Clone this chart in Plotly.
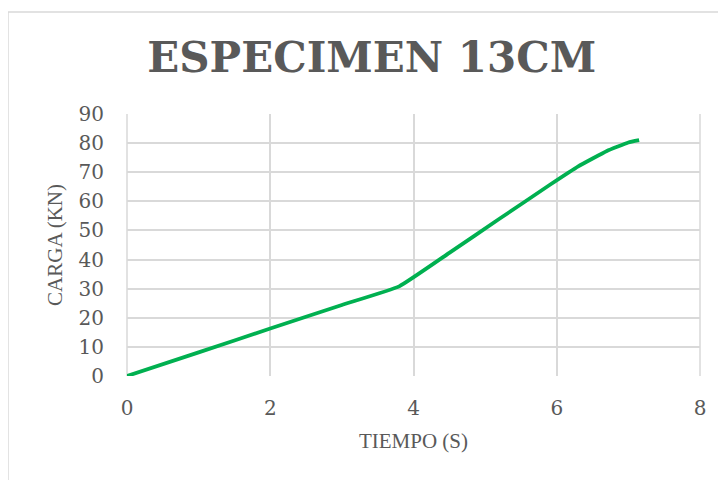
import plotly.graph_objects as go

# Data
tiempo_s = [0, 1, 2, 3, 3.8, 4.5, 5.2, 5.9, 6.3, 6.7, 7.0, 7.15]
carga_kn = [0, 8.1, 16.3, 24.4, 30.8, 42.3, 54.0, 65.6, 72.0, 77.3, 80.2, 81.0]

title_text = "ESPECIMEN 13CM"
x_title = "TIEMPO (S)"
y_title = "CARGA (KN)"
x_ticks = [0, 2, 4, 6, 8]
y_ticks = [0, 10, 20, 30, 40, 50, 60, 70, 80, 90]

FONT = "Liberation Serif"
TICKFONT = "DejaVu Serif"
GRAY = "#595959"
GRID = "#d9d9d9"

fig = go.Figure()
fig.add_trace(go.Scatter(
    x=tiempo_s, y=carga_kn, mode="lines",
    line=dict(color="#00B050", width=3.8, shape="spline", smoothing=0.35),
    showlegend=False, hoverinfo="skip",
))

fig.update_layout(
    width=726, height=480,
    paper_bgcolor="white", plot_bgcolor="white",
    margin=dict(l=119, r=34, t=106, b=112, autoexpand=False),
    title=dict(
        text=title_text, x=0.501, xanchor="center", y=0.898, yanchor="middle",
        xref="container", yref="container",
        font=dict(family="DejaVu Serif", size=42, color=GRAY, weight="bold"),
    ),
    font=dict(family=FONT, color=GRAY),
    xaxis=dict(
        range=[0, 8], tickvals=x_ticks, ticktext=[str(v) for v in x_ticks],
        showgrid=True, gridcolor=GRID, gridwidth=1.5,
        zeroline=False, showline=False, automargin=False,
        ticks="outside", ticklen=0, ticklabelstandoff=14,
        tickfont=dict(family=TICKFONT, size=20, color=GRAY),
        title=dict(text=x_title, font=dict(family=FONT, size=21, color=GRAY), standoff=14),
    ),
    yaxis=dict(
        range=[0, 90], tickvals=y_ticks, ticktext=[str(v) for v in y_ticks],
        showgrid=True, gridcolor=GRID, gridwidth=1.5,
        zeroline=False, showline=False, automargin=False,
        ticks="outside", ticklen=0, ticklabelstandoff=18,
        tickfont=dict(family=TICKFONT, size=20, color=GRAY),
        title=dict(text=y_title, font=dict(family=FONT, size=21, color=GRAY), standoff=10),
    ),
    shapes=[
        dict(type="rect", xref="paper", yref="paper",
             x0=-0.2077, x1=2.0, y0=-2.0, y1=1.389,
             line=dict(color=GRID, width=1.5), fillcolor="rgba(0,0,0,0)", layer="below"),
        dict(type="line", xref="paper", yref="paper", x0=0, x1=0, y0=0, y1=1,
             line=dict(color=GRID, width=1.5), layer="below"),
        dict(type="line", xref="paper", yref="paper", x0=1, x1=1, y0=0, y1=1,
             line=dict(color=GRID, width=1.5), layer="below"),
    ],
)

fig.write_html("out.html")
